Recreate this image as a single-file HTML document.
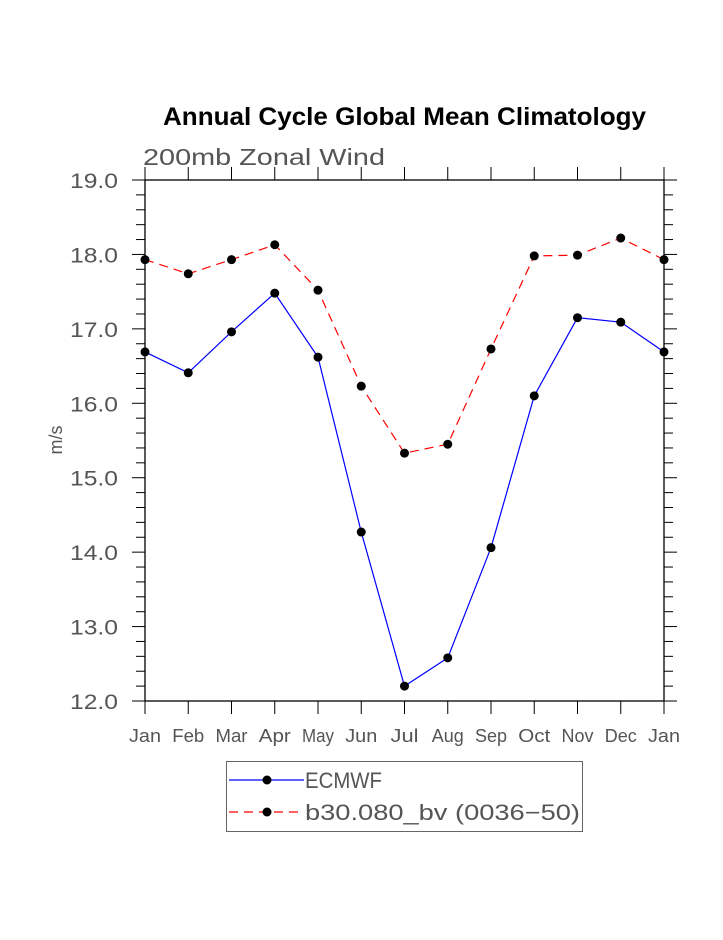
<!DOCTYPE html>
<html><head><meta charset="utf-8"><style>
body{margin:0;background:#fff}
svg text{font-family:"Liberation Sans",sans-serif}
</style></head><body>
<svg id="c" width="723" height="935" xmlns="http://www.w3.org/2000/svg">
<text x="163" y="125" textLength="483" lengthAdjust="spacingAndGlyphs" font-size="25" font-weight="bold" fill="#000">Annual Cycle Global Mean Climatology</text>
<text x="143" y="165" textLength="242" lengthAdjust="spacingAndGlyphs" font-size="23" fill="#555">200mb Zonal Wind</text>
<text x="0" y="0" transform="translate(62,440) rotate(-90)" text-anchor="middle" font-size="18" fill="#555">m/s</text>
<g id="axes"></g>
<g id="series"></g>
<g>
<rect x="226.5" y="761.5" width="356" height="70" fill="none" stroke="#666" stroke-width="1"/>
<line x1="229" y1="780" x2="304" y2="780" stroke="#00f" stroke-width="1.2"/>
<circle cx="267" cy="780" r="4.5" fill="#000"/>
<text x="305" y="788" textLength="77" lengthAdjust="spacingAndGlyphs" font-size="22" fill="#555">ECMWF</text>
<line x1="229" y1="812" x2="304" y2="812" stroke="#f00" stroke-width="1.2" stroke-dasharray="9,6"/>
<circle cx="267" cy="812" r="4.5" fill="#000"/>
<text x="305" y="820" textLength="275" lengthAdjust="spacingAndGlyphs" font-size="22" fill="#555">b30.080_bv (0036−50)</text>
</g>
</svg>
<script>
const months=["Jan","Feb","Mar","Apr","May","Jun","Jul","Aug","Sep","Oct","Nov","Dec","Jan"];
const ecmwf=[16.69,16.41,16.96,17.48,16.62,14.27,12.20,12.58,14.06,16.10,17.15,17.09,16.69];
const b30=[17.93,17.74,17.93,18.13,17.52,16.23,15.33,15.45,16.73,17.98,17.99,18.22,17.93];
const yTicks=[12,13,14,15,16,17,18,19];
const X0=145,X1=664,Y0=701,Y1=180,YMIN=12,YMAX=19;
const xs=i=>X0+(X1-X0)*i/(months.length-1);
const ys=v=>Y0-(v-YMIN)/(YMAX-YMIN)*(Y0-Y1);
const NS="http://www.w3.org/2000/svg";
function mk(t,a,p){const e=document.createElementNS(NS,t);for(const k in a)e.setAttribute(k,a[k]);p.appendChild(e);return e;}
const ax=document.getElementById('axes');
const fr=mk('rect',{x:X0,y:Y1,width:X1-X0,height:Y0-Y1,fill:'none',stroke:'#000','stroke-width':1.3},ax);


for(let v=YMIN;v<=YMAX+1e-9;v+=0.2){
  const y=ys(v);const major=Math.abs(v-Math.round(v))<1e-6;const L=major?13:9;
  mk('line',{x1:X0-L,y1:y,x2:X0,y2:y,stroke:'#000','stroke-width':1},ax);
  mk('line',{x1:X1,y1:y,x2:X1+L,y2:y,stroke:'#000','stroke-width':1},ax);
}
yTicks.forEach(v=>{
  const t=mk('text',{x:70,y:ys(v)+8,textLength:48,lengthAdjust:'spacingAndGlyphs','font-size':21,fill:'#555'},ax);
  t.textContent=v.toFixed(1);
  
  
});
months.forEach((m,i)=>{
  const x=xs(i);
  mk('line',{x1:x,y1:Y0,x2:x,y2:Y0+13,stroke:'#000','stroke-width':1},ax);
  mk('line',{x1:x,y1:Y1-13,x2:x,y2:Y1,stroke:'#000','stroke-width':1},ax);
  const w=m==="Jul"?28:32;
  const t=mk('text',{x:x-w/2,y:742,textLength:w,lengthAdjust:'spacingAndGlyphs','font-size':18,fill:'#555'},ax);
  t.textContent=m;
  
  
});
const sg=document.getElementById('series');
function draw(vals,color,dash,name){
  const pl=mk('polyline',{points:vals.map((v,i)=>xs(i)+','+ys(v)).join(' '),fill:'none',stroke:color,'stroke-width':1.2},sg);
  if(dash)pl.setAttribute('stroke-dasharray',dash);
  
  
  vals.forEach((v,i)=>{
    const c=mk('circle',{cx:xs(i),cy:ys(v),r:4.5,fill:'#000'},sg);
    
    
  });
}
draw(b30,'#f00','9,6','b30');
draw(ecmwf,'#00f',null,'ecmwf');
</script>
</body></html>
